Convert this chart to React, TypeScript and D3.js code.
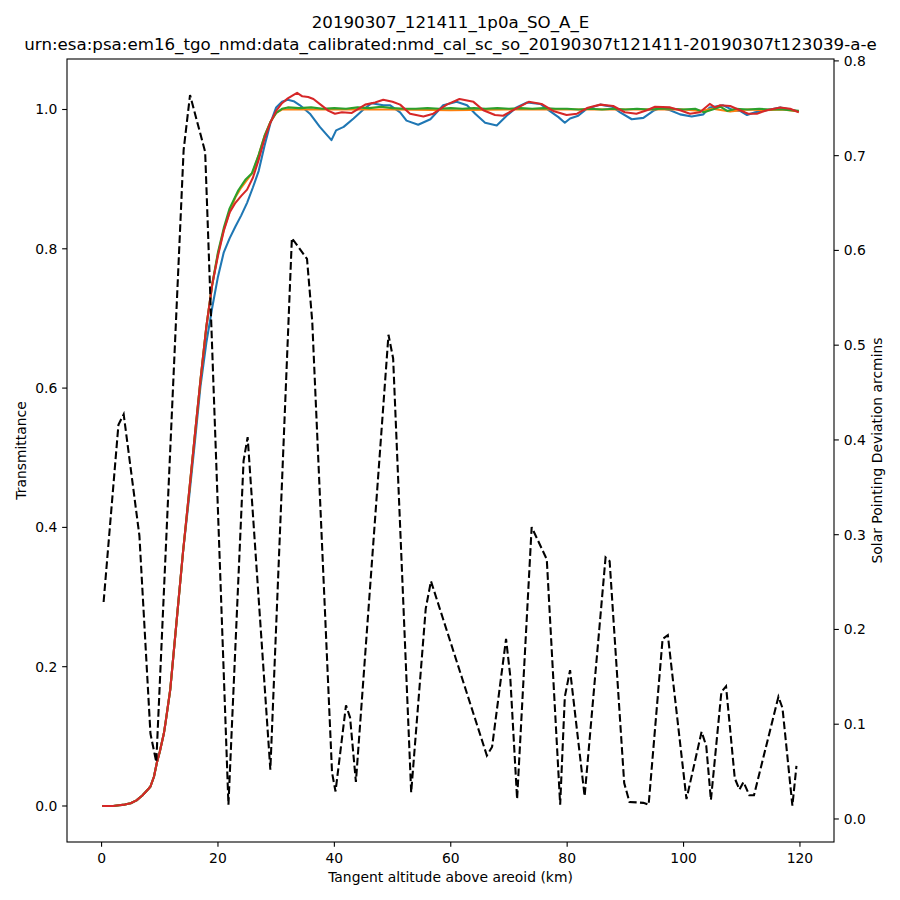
import React from 'react';
import * as d3 from 'd3';

// transmittance curves (altitude km, transmittance), one per bin
const lowPart: [number, number][] = [
  [0.1, 0.0], [1, 0.0], [2, 0.0], [3, 0.001], [4, 0.002], [5, 0.004], [6, 0.008],
  [7, 0.015], [8, 0.024], [8.4, 0.028], [9, 0.042], [9.5, 0.062], [10, 0.078],
  [10.7, 0.104], [11, 0.12], [11.8, 0.167], [12, 0.185], [13, 0.275], [14, 0.365],
];

const blueUpper: [number, number][] = [
  [15, 0.44], [16, 0.52], [17, 0.603], [18, 0.665], [19, 0.715], [20, 0.76], [21, 0.795],
  [22, 0.815], [23, 0.832], [24, 0.848], [25, 0.866], [26, 0.888], [27, 0.912], [28, 0.948],
  [29, 0.98], [30, 1.003], [31, 1.011], [32, 1.014], [33, 1.012], [34.1, 1.006], [35.8, 0.994],
  [37.5, 0.975], [39.5, 0.956], [40.3, 0.97], [41.6, 0.975], [43.3, 0.987], [45, 1.0],
  [46.4, 1.009], [48.4, 1.006], [49.6, 1.006], [51.3, 0.996], [52.4, 0.984], [54.4, 0.978],
  [56.5, 0.986], [58.7, 1.006], [61, 1.011], [62.8, 1.006], [64.2, 0.994], [65.9, 0.981],
  [67.9, 0.977], [69.6, 0.991], [71.3, 1.003], [73.1, 1.01], [75.4, 1.008], [76.8, 0.999],
  [78.5, 0.989], [79.6, 0.981], [80.5, 0.987], [81.9, 0.991], [83.4, 1.001], [85.7, 1.007],
  [87.7, 1.004], [89.1, 0.996], [91.1, 0.986], [93.1, 0.988], [94.8, 0.998], [96, 1.002],
  [97.7, 0.999], [99.4, 0.993], [101.4, 0.99], [103.4, 0.993], [104.5, 1.003], [106.8, 1.006],
  [108.5, 0.999], [109.7, 0.998], [110.9, 0.992], [112.3, 0.996], [114.3, 0.999],
  [116.6, 1.003], [117.7, 1.001], [119.8, 0.997],
];

const orangeUpper: [number, number][] = [
  [15, 0.447], [16, 0.53], [17, 0.612], [18, 0.688], [19, 0.748], [20, 0.793], [21, 0.827],
  [22, 0.853], [23, 0.874], [24, 0.888], [25, 0.899], [26, 0.91], [27, 0.935], [28, 0.962],
  [29, 0.982], [30, 0.995], [31, 1.0], [40, 1.0], [50, 1.0], [60, 0.999], [70, 1.0],
  [80, 1.0], [90, 1.0], [100, 1.0], [103, 0.998], [105, 1.001], [108, 0.997], [111, 1.0],
  [114, 0.999], [117, 1.0], [119.8, 0.997],
];

const greenUpper: [number, number][] = [
  [15, 0.447], [16, 0.53], [17, 0.612], [18, 0.688], [19, 0.748], [20, 0.795], [21, 0.83],
  [22, 0.858], [22.7, 0.87], [23.5, 0.884], [24.7, 0.899], [25.8, 0.908], [27, 0.935],
  [28, 0.962], [29, 0.982], [30, 0.995], [31, 1.001], [32, 1.003], [34, 1.002], [36, 1.003],
  [38, 1.001], [40, 1.002], [42, 1.001], [44, 1.003], [46, 1.002], [48, 1.004], [50, 1.002],
  [52, 1.001], [54, 1.001], [56, 1.002], [58, 1.001], [60, 1.002], [62, 1.001], [64, 1.002],
  [66, 1.001], [68, 1.002], [70, 1.001], [72, 1.002], [74, 1.001], [76, 1.002], [78, 1.001],
  [80, 1.001], [82, 1.0], [84, 1.001], [86, 1.0], [88, 1.001], [90, 1.0], [92, 1.001],
  [94, 1.0], [96, 1.001], [98, 1.001], [100, 1.0], [102, 1.001], [103.5, 0.996], [105, 1.0],
  [106.3, 1.004], [107.5, 0.998], [109, 1.001], [111, 1.0], [113, 1.001], [115, 1.0],
  [117, 1.0], [119.8, 0.998],
];

const redUpper: [number, number][] = [
  [15, 0.447], [16, 0.53], [17, 0.612], [18, 0.688], [19, 0.748], [20, 0.79], [21, 0.826],
  [22, 0.852], [23, 0.866], [24, 0.876], [25, 0.885], [26, 0.902], [27, 0.928], [28, 0.958],
  [29, 0.981], [30, 0.998], [31, 1.009], [32, 1.016], [33, 1.021], [33.6, 1.024],
  [34.5, 1.019], [35.5, 1.018], [36.4, 1.015], [37.8, 1.006], [39, 0.998], [40.1, 0.994],
  [41.3, 0.996], [43, 0.995], [45.3, 1.007], [47, 1.01], [48.4, 1.014], [50, 1.011],
  [51.3, 1.007], [53, 0.994], [55.3, 0.99], [57, 0.994], [59.3, 1.007], [61.5, 1.015],
  [63.9, 1.011], [65.6, 0.999], [67.6, 0.992], [69, 0.991], [71.1, 1.001], [73.4, 1.011],
  [75.6, 1.008], [77.6, 0.998], [79.9, 0.992], [81.7, 0.994], [83.4, 1.002], [85.7, 1.007],
  [87.9, 1.005], [89.9, 0.996], [91.9, 0.994], [93.7, 0.999], [95.1, 1.004], [97.7, 1.003],
  [99.4, 0.999], [101.1, 0.994], [102.8, 0.996], [104.5, 1.008], [105.4, 1.003],
  [106.3, 1.006], [108, 1.005], [109.7, 0.999], [111.1, 0.994], [112.6, 0.994],
  [114.3, 0.999], [116.6, 1.003], [118.3, 1.001], [119.8, 0.996],
];

// solar pointing deviation (arcmins) vs altitude
const pointing: [number, number][] = [
  [0.35, 0.229], [2.9, 0.416], [3.8, 0.427], [6.5, 0.299], [8.4, 0.09], [9.4, 0.06],
  [14.1, 0.706], [15.2, 0.764], [17.8, 0.704], [21.8, 0.015], [24.4, 0.378], [25.1, 0.403],
  [29.0, 0.052], [32.7, 0.613], [35.3, 0.591], [36.2, 0.525], [39.6, 0.049], [40.2, 0.029],
  [42.0, 0.12], [42.7, 0.107], [43.7, 0.039], [49.3, 0.511], [50.1, 0.486], [53.2, 0.028],
  [55.7, 0.222], [56.6, 0.251], [66.2, 0.067], [67.1, 0.076], [69.5, 0.19], [70.2, 0.152],
  [71.4, 0.021], [73.9, 0.308], [76.5, 0.274], [78.8, 0.015], [79.6, 0.129], [80.5, 0.157],
  [83.0, 0.024], [86.6, 0.276], [87.3, 0.272], [89.8, 0.038], [90.7, 0.018], [93.1, 0.017],
  [94.0, 0.015], [96.4, 0.19], [97.3, 0.194], [100.5, 0.021], [103.1, 0.092], [103.9, 0.077],
  [104.7, 0.02], [106.5, 0.134], [107.3, 0.14], [108.8, 0.043], [109.6, 0.031],
  [110.3, 0.039], [111.3, 0.025], [112.1, 0.025], [116.3, 0.129], [117.0, 0.117],
  [118.7, 0.014], [119.4, 0.056],
];

const xTicks = [0, 20, 40, 60, 80, 100, 120];
const leftTicks = [0.0, 0.2, 0.4, 0.6, 0.8, 1.0];
const rightTicks = [0.0, 0.1, 0.2, 0.3, 0.4, 0.5, 0.6, 0.7, 0.8];

const series = [
  { name: 'blue', color: '#1f77b4', upper: blueUpper },
  { name: 'orange', color: '#ff7f0e', upper: orangeUpper },
  { name: 'green', color: '#2ca02c', upper: greenUpper },
  { name: 'red', color: '#d62728', upper: redUpper },
];

const W = 900;
const H = 900;
const margin = { top: 59, right: 66, bottom: 58, left: 67 };
const font = 'DejaVu Sans, sans-serif';

export default function App() {
  const x0 = margin.left;
  const x1 = W - margin.right;
  const y0 = margin.top;
  const y1 = H - margin.bottom;

  const x = d3.scaleLinear().domain([-5.94, 125.85]).range([x0, x1]);
  const yL = d3.scaleLinear().domain([-0.0517, 1.0725]).range([y1, y0]);
  const yR = d3.scaleLinear().domain([-0.0243, 0.802]).range([y1, y0]);

  const lineL = d3.line<[number, number]>().x(d => x(d[0])).y(d => yL(d[1]));
  const lineR = d3.line<[number, number]>().x(d => x(d[0])).y(d => yR(d[1]));

  const tickLen = 4.86;
  const fs = 13.9;

  return (
    <div style={{ position: 'absolute', left: 0, top: 0 }}>
      <svg width={W} height={H} style={{ display: 'block', background: '#fff' }} fontFamily={font}>
        <rect width={W} height={H} fill="#fff" />

        {series.map(s => (
          <path
            key={s.name}
            d={lineL([...lowPart, ...s.upper]) || ''}
            fill="none"
            stroke={s.color}
            strokeWidth={2.08}
            strokeLinejoin="round"
            strokeLinecap="butt"
          />
        ))}

        <path
          d={lineR(pointing) || ''}
          fill="none"
          stroke="#000"
          strokeWidth={2.08}
          strokeDasharray="7.7 3.33"
        />

        {/* frame */}
        <rect x={x0} y={y0} width={x1 - x0} height={y1 - y0} fill="none" stroke="#000" strokeWidth={1.1} />

        {/* x axis */}
        {xTicks.map(t => (
          <g key={'x' + t}>
            <line x1={x(t)} x2={x(t)} y1={y1} y2={y1 + tickLen} stroke="#000" strokeWidth={1.1} />
            <text x={x(t)} y={y1 + 20.5} fontSize={fs} textAnchor="middle">{t}</text>
          </g>
        ))}
        <text x={(x0 + x1) / 2} y={y1 + 40} fontSize={fs} textAnchor="middle">
          Tangent altitude above areoid (km)
        </text>

        {/* left axis */}
        {leftTicks.map(t => (
          <g key={'l' + t}>
            <line x1={x0} x2={x0 - tickLen} y1={yL(t)} y2={yL(t)} stroke="#000" strokeWidth={1.1} />
            <text x={x0 - 9.7} y={yL(t) + 5} fontSize={fs} textAnchor="end">{t.toFixed(1)}</text>
          </g>
        ))}
        <text
          transform={`translate(26,${(y0 + y1) / 2}) rotate(-90)`}
          fontSize={fs}
          textAnchor="middle"
        >
          Transmittance
        </text>

        {/* right axis */}
        {rightTicks.map(t => (
          <g key={'r' + t}>
            <line x1={x1} x2={x1 + tickLen} y1={yR(t)} y2={yR(t)} stroke="#000" strokeWidth={1.1} />
            <text x={x1 + 9.7} y={yR(t) + 5} fontSize={fs} textAnchor="start">{t.toFixed(1)}</text>
          </g>
        ))}
        <text
          transform={`translate(882,${(y0 + y1) / 2}) rotate(-90)`}
          fontSize={fs}
          textAnchor="middle"
        >
          Solar Pointing Deviation arcmins
        </text>

        {/* title */}
        <text x={(x0 + x1) / 2} y={28} fontSize={16.67} textAnchor="middle">
          20190307_121411_1p0a_SO_A_E
        </text>
        <text x={(x0 + x1) / 2} y={50} fontSize={16.67} textAnchor="middle">
          urn:esa:psa:em16_tgo_nmd:data_calibrated:nmd_cal_sc_so_20190307t121411-20190307t123039-a-e
        </text>
      </svg>
    </div>
  );
}
